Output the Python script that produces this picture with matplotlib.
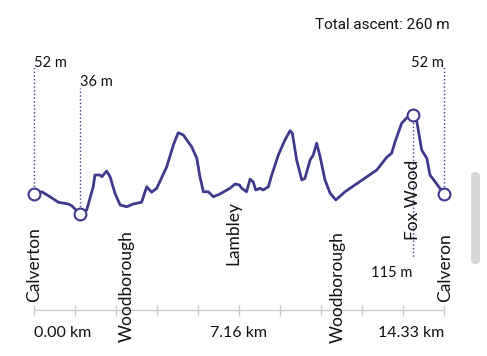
import matplotlib.pyplot as plt
from matplotlib.patches import FancyBboxPatch
from matplotlib.transforms import IdentityTransform

# elevation profile (km, m)
dist_km = [0.0, 0.27, 0.56, 0.85, 1.20, 1.32, 1.61, 1.84, 2.07, 2.13, 2.31, 2.37,
           2.54, 2.66, 2.83, 3.01, 3.24, 3.47, 3.76, 3.94, 4.11, 4.29, 4.64, 4.87,
           5.04, 5.22, 5.51, 5.69, 5.80, 5.92, 6.09, 6.27, 6.50, 6.85, 7.03, 7.18,
           7.26, 7.43, 7.55, 7.66, 7.75, 7.90, 8.01, 8.19, 8.31, 8.54, 8.77, 8.95,
           9.03, 9.18, 9.36, 9.47, 9.65, 9.76, 9.88, 10.00, 10.17, 10.35, 10.55,
           10.87, 11.98, 12.33, 12.50, 12.62, 12.85, 13.03, 13.24, 13.38, 13.55,
           13.73, 13.84, 14.02, 14.33]
elev_m = [52, 53.8, 49.8, 45.4, 44.0, 42.6, 36, 39.2, 57.8, 67.2, 67.2, 65.8,
          70.4, 65.8, 52.6, 43.2, 41.8, 44.0, 45.4, 57.8, 53.4, 56.6, 73.8, 91.2,
          101.0, 99.2, 89.8, 80.6, 65.8, 53.8, 53.8, 49.8, 52, 56.6, 60, 59.2,
          56.6, 53.8, 63.8, 61.8, 55.2, 56.6, 55.2, 57.8, 67.2, 83.2, 95.2, 102.6,
          100.6, 79.2, 63.2, 64.6, 79.2, 83.2, 92.6, 81.8, 63.2, 52.6, 47.2,
          53.8, 71.2, 81.4, 84.6, 93.8, 108.6, 113, 115, 110, 87.2,
          80.6, 67.2, 61.8, 52]

places = ["Calverton", "Woodborough", "Lambley", "Woodborough", "Fox Wood", "Calveron"]
place_km = [0.0, 3.25, 6.96, 10.62, 13.25, 14.38]
tick_km = [0.00, 7.16, 14.33]
total_ascent = 260

color = "#3f3a8e"
fig = plt.figure(figsize=(4.87, 3.56), dpi=100)
ax = fig.add_axes([0, 0, 1, 1])
ax.set_xlim(-34 / 410 * 14.33, 453 / 410 * 14.33)
ax.set_ylim(52 - 162 * 0.8, 52 + 194 * 0.8)
ax.axis("off")


def py(y):
    # pixel row (from top) -> elevation units
    return 52 + (194 - y) * 0.8


ax.plot(dist_km, elev_m, color=color, lw=2.0, solid_joinstyle="round", zorder=3)

# markers: start, min, max, end
i_min = elev_m.index(min(elev_m))
i_max = elev_m.index(max(elev_m))
pts = [0, i_min, i_max, len(elev_m) - 1]
ax.plot([dist_km[i] for i in pts], [elev_m[i] for i in pts], "o", ms=8.5,
        mfc="white", mec=color, mew=1.5, zorder=4)

lab = dict(fontsize=10.5, family="Lato", color="#111111")
# dotted guide lines + labels
ax.vlines(dist_km[0], elev_m[0], py(66), colors=color, linestyles=":", lw=1)
ax.text(dist_km[0], py(63), f"{elev_m[0]:.0f} m", ha="left", va="center", **lab)
ax.vlines(dist_km[i_min], elev_m[i_min], py(88), colors=color, linestyles=":", lw=1)
ax.text(dist_km[i_min], py(82), f"{elev_m[i_min]:.0f} m", ha="left", va="center", **lab)
ax.vlines(dist_km[-1], elev_m[-1], py(66), colors=color, linestyles=":", lw=1)
ax.text(dist_km[-1], py(63), f"{elev_m[-1]:.0f} m", ha="right", va="center", **lab)
ax.vlines(dist_km[i_max], elev_m[i_max], py(258), colors=color, linestyles=":", lw=1, zorder=1)
ax.text(dist_km[i_max], py(273), f"{elev_m[i_max]:.0f} m", ha="right", va="center", **lab)

# place names
bottoms = [302, 342, 265, 343, 240, 302]
for name, km, b in zip(places, place_km, bottoms):
    ax.text(km, py(b), name, rotation=90, ha="center", va="bottom",
            fontsize=12.5, family="Lato", color="#111111", zorder=2)

# distance axis
ax.hlines(py(310), 0, tick_km[-1], colors="#cccccc", lw=1, zorder=0)
ax.vlines([tick_km[-1] * k / 10 for k in range(11)], py(305), py(316),
          colors="#cccccc", lw=1, zorder=0)
for km, ha in zip(tick_km, ["left", "center", "right"]):
    ax.text(km, py(333), f"{km:.2f} km", ha=ha, va="center",
            fontsize=11.5, family="Lato", color="#111111")

fig.text(450 / 487, 1 - 25 / 356, f"Total ascent: {total_ascent} m", ha="right",
         va="center", fontsize=11, family="Roboto", color="#111111")

# scrollbar of the screenshot (display pixels, origin bottom-left)
bar = FancyBboxPatch((471, 356 - 264), 9, 92,
                     boxstyle="round,pad=0,rounding_size=4.5",
                     transform=IdentityTransform(), fc="#d6d6d6", ec="none")
fig.patches.append(bar)

plt.savefig("out.png", dpi=100)
